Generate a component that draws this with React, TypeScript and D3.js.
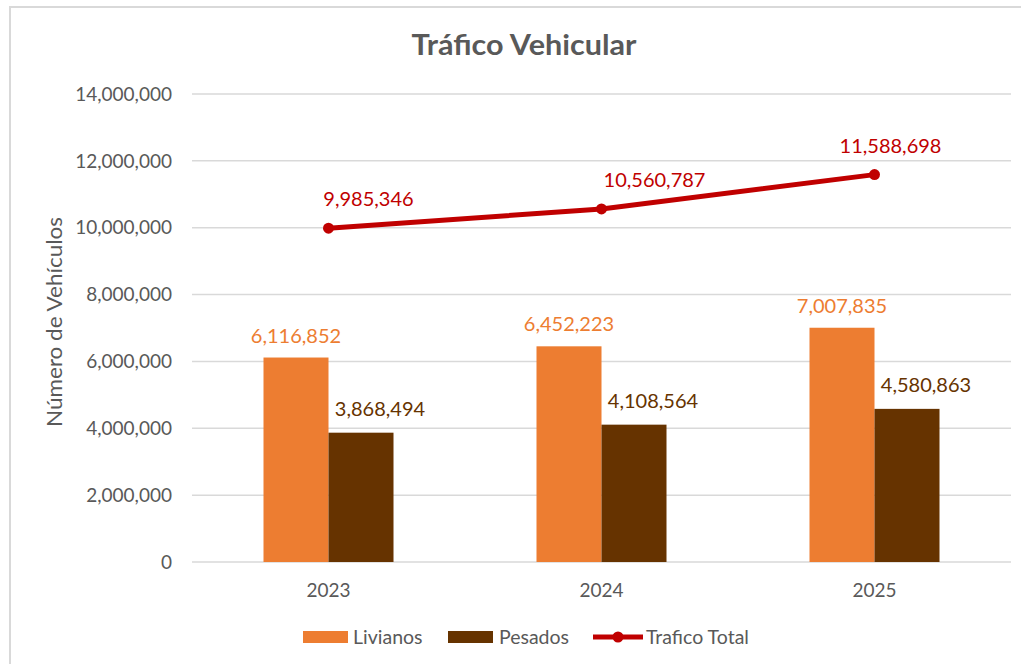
import React from 'react';
import * as d3 from 'd3';

const YEARS = ['2023', '2024', '2025'];
const LIVIANOS = [6116852, 6452223, 7007835];
const PESADOS = [3868494, 4108564, 4580863];
const TOTAL = [9985346, 10560787, 11588698];
const Y_TICKS = [0, 2000000, 4000000, 6000000, 8000000, 10000000, 12000000, 14000000];

const WIDTH = 1021;
const HEIGHT = 664;
const PLOT = { left: 192, right: 1011, top: 94, bottom: 562 };
const BAR_W = 65;
const FONT = 'Lato, "Noto Sans", sans-serif';
const GREY = '#595959';
const COLORS = { liv: '#ED7D31', pes: '#663300', tot: '#C00000' };

// the labels in the source were nudged by hand
const PES_LABEL_DX = 19;
const TOT_LABEL_DX = [40, 53, 16];

const fmt = d3.format(',');

export default function App() {
  const x = d3.scaleBand().domain(YEARS).range([PLOT.left, PLOT.right]);
  const y = d3.scaleLinear().domain([0, 14000000]).range([PLOT.bottom, PLOT.top]);
  const cx = (yr) => x(yr) + x.bandwidth() / 2;

  const line = d3.line().x((d, i) => cx(YEARS[i])).y((d) => y(d));

  return (
    <svg width={WIDTH} height={HEIGHT} style={{ position: 'absolute', left: 0, top: 0, background: '#fff', fontFamily: FONT }}>
      {/* frame */}
      <line x1={10} x2={10} y1={6} y2={HEIGHT} stroke="#D9D9D9" strokeWidth={2} />
      <line x1={9} x2={WIDTH} y1={7} y2={7} stroke="#D9D9D9" strokeWidth={2} />

      <text x={524} y={55} textAnchor="middle" fontSize={29} fontWeight="bold" fill={GREY} textLength={225} lengthAdjust="spacingAndGlyphs">Tráfico Vehicular</text>

      {/* grid + y ticks */}
      {Y_TICKS.map((t) => (
        <g key={t}>
          <line x1={PLOT.left} x2={PLOT.right} y1={y(t)} y2={y(t)} stroke="#D9D9D9" strokeWidth={1.5} />
          <text x={172} y={y(t)} dy="0.35em" textAnchor="end" fontSize={19} fill={GREY}>{fmt(t)}</text>
        </g>
      ))}

      <text transform={`translate(62,${322}) rotate(-90)`} textAnchor="middle" fontSize={21} fill={GREY} textLength={210} lengthAdjust="spacingAndGlyphs">Número de Vehículos</text>

      {/* bars */}
      {YEARS.map((yr, i) => {
        const c = cx(yr);
        return (
          <g key={yr}>
            <rect x={c - BAR_W} y={y(LIVIANOS[i])} width={BAR_W} height={y(0) - y(LIVIANOS[i])} fill={COLORS.liv} />
            <rect x={c} y={y(PESADOS[i])} width={BAR_W} height={y(0) - y(PESADOS[i])} fill={COLORS.pes} />
            <text x={c - BAR_W / 2} y={y(LIVIANOS[i]) - 15} textAnchor="middle" fontSize={20} fill={COLORS.liv}>{fmt(LIVIANOS[i])}</text>
            <text x={c + BAR_W / 2 + PES_LABEL_DX} y={y(PESADOS[i]) - 17} textAnchor="middle" fontSize={20} fill={COLORS.pes}>{fmt(PESADOS[i])}</text>
            <text x={c} y={597} textAnchor="middle" fontSize={19} fill={GREY}>{yr}</text>
          </g>
        );
      })}

      {/* total line */}
      <path d={line(TOTAL)} fill="none" stroke={COLORS.tot} strokeWidth={5} strokeLinejoin="round" />
      {TOTAL.map((v, i) => (
        <g key={i}>
          <circle cx={cx(YEARS[i])} cy={y(v)} r={5.5} fill={COLORS.tot} />
          <text x={cx(YEARS[i]) + TOT_LABEL_DX[i]} y={y(v) - 22} textAnchor="middle" fontSize={20} fill={COLORS.tot}>{fmt(v)}</text>
        </g>
      ))}

      {/* legend */}
      <g fontSize={19.5} fill={GREY}>
        <rect x={303} y={631} width={45} height={12} fill={COLORS.liv} />
        <text x={353} y={644}>Livianos</text>
        <rect x={448} y={631} width={45} height={12} fill={COLORS.pes} />
        <text x={499} y={644}>Pesados</text>
        <line x1={593} x2={643} y1={637} y2={637} stroke={COLORS.tot} strokeWidth={5} />
        <circle cx={618} cy={637} r={5.5} fill={COLORS.tot} />
        <text x={646} y={644}>Trafico Total</text>
      </g>
    </svg>
  );
}
